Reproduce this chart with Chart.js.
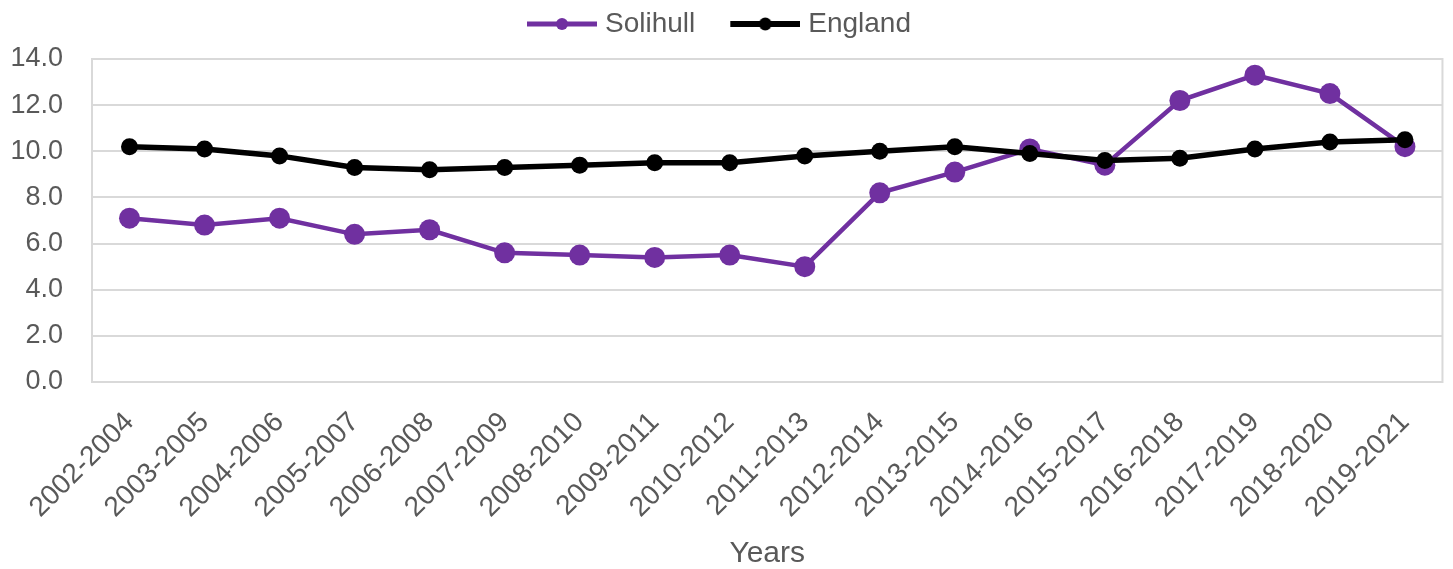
<!DOCTYPE html>
<html>
<head>
<meta charset="utf-8">
<script src="https://cdn.jsdelivr.net/npm/chart.js@4"></script>
<style>
  html, body { margin: 0; padding: 0; background: #ffffff; }
  #wrap { width: 1453px; height: 569px; }
</style>
</head>
<body>
<div id="wrap"><canvas id="rateChart"></canvas></div>
<script>
// ---- Data ----
const years = ['2002-2004', '2003-2005', '2004-2006', '2005-2007', '2006-2008', '2007-2009',
               '2008-2010', '2009-2011', '2010-2012', '2011-2013', '2012-2014', '2013-2015',
               '2014-2016', '2015-2017', '2016-2018', '2017-2019', '2018-2020', '2019-2021'];
const solihull = [7.1, 6.8, 7.1, 6.4, 6.6, 5.6, 5.5, 5.4, 5.5, 5.0, 8.2, 9.1, 10.1, 9.4, 12.2, 13.3, 12.5, 10.2];
const england  = [10.2, 10.1, 9.8, 9.3, 9.2, 9.3, 9.4, 9.5, 9.5, 9.8, 10.0, 10.2, 9.9, 9.6, 9.7, 10.1, 10.4, 10.5];
const yTicks   = [0, 2, 4, 6, 8, 10, 12, 14];

const purple = '#7030a0';
const grey   = '#595959';
const gridCl = '#d9d9d9';
const FONT   = "Arial, 'Liberation Sans', sans-serif";

// ---- legend symbol: line with marker, drawn on small canvas ----
const SYM_W = 101, SYM_H = 16;
const legendSymbol = (color, lineW, r) => {
    const c = document.createElement('canvas');
    c.width = SYM_W; c.height = SYM_H;
    const g = c.getContext('2d');
    const x0 = SYM_W - 70, x1 = SYM_W;
    g.strokeStyle = color;
    g.lineWidth = lineW;
    g.beginPath();
    g.moveTo(x0, SYM_H / 2);
    g.lineTo(x1, SYM_H / 2);
    g.stroke();
    g.fillStyle = color;
    g.beginPath();
    g.arc((x0 + x1) / 2, SYM_H / 2, r, 0, Math.PI * 2);
    g.fill();
    return c;
};
const symbols = [legendSymbol(purple, 5, 6), legendSymbol('#000000', 6, 6.5)];

// ---- plot frame ----
const frame = {
    id: 'frame',
    beforeDatasetsDraw(chart) {
        const {ctx, chartArea: a} = chart;
        ctx.save();
        ctx.strokeStyle = gridCl;
        ctx.lineWidth = 2;
        ctx.strokeRect(a.left, a.top, a.right - a.left, a.bottom - a.top);
        ctx.restore();
    }
};

// ---- extra room under the legend ----
const legendGap = {
    id: 'legendGap',
    beforeInit(chart) {
        const fit = chart.legend.fit;
        chart.legend.fit = function() {
            fit.bind(chart.legend)();
            this.height += 11;
        };
    }
};

const PAD_LEFT = -34;

new Chart(document.getElementById('rateChart').getContext('2d'), {
    type: 'line',
    data: {
        labels: years,
        datasets: [{
            label: 'Solihull',
            data: solihull,
            order: 1,
            borderColor: purple,
            backgroundColor: purple,
            borderWidth: 4.5,
            pointRadius: 10.5,
            pointBorderWidth: 0,
            pointBackgroundColor: purple,
            tension: 0,
        }, {
            label: 'England',
            data: england,
            order: 0,
            borderColor: '#000000',
            backgroundColor: '#000000',
            borderWidth: 5.5,
            pointRadius: 8.5,
            pointBorderWidth: 0,
            pointBackgroundColor: '#000000',
            tension: 0,
        }]
    },
    options: {
        responsive: true,
        maintainAspectRatio: false,
        animation: false,
        events: [],
        layout: { padding: { left: PAD_LEFT, right: 6, top: 0, bottom: 0 } },
        plugins: {
            legend: {
                position: 'top',
                labels: {
                    usePointStyle: true,
                    pointStyleWidth: 89,
                    padding: 10,
                    color: grey,
                    font: { family: FONT, size: 28 },
                    generateLabels(chart) {
                        return chart.data.datasets.map((ds, i) => ({
                            text: ds.label,
                            fillStyle: ds.borderColor,
                            strokeStyle: ds.borderColor,
                            lineWidth: 0,
                            pointStyle: symbols[i],
                            fontColor: grey,
                            hidden: false,
                            datasetIndex: i,
                        }));
                    }
                }
            },
            tooltip: { enabled: false }
        },
        scales: {
            x: {
                offset: true,
                grid: { display: false, drawTicks: false },
                border: { display: false },
                ticks: {
                    color: grey,
                    font: { family: FONT, size: 28 },
                    minRotation: 45,
                    maxRotation: 45,
                    padding: 24,
                    autoSkip: false,
                },
                title: {
                    display: true,
                    text: 'Years',
                    color: grey,
                    font: { family: FONT, size: 30 },
                    padding: { top: 0, bottom: -3 },
                },
                afterFit(scale) { scale.height = 569 - 382; }
            },
            y: {
                min: 0,
                max: 14,
                afterBuildTicks(scale) { scale.ticks = yTicks.map(v => ({ value: v })); },
                grid: { color: gridCl, lineWidth: 2, drawTicks: false },
                border: { display: false },
                ticks: {
                    color: grey,
                    font: { family: FONT, size: 27 },
                    padding: 29,
                    callback: v => Number(v).toFixed(1),
                },
                afterFit(scale) { scale.width = 92 - PAD_LEFT; }
            }
        }
    },
    plugins: [frame, legendGap]
});
</script>
</body>
</html>
